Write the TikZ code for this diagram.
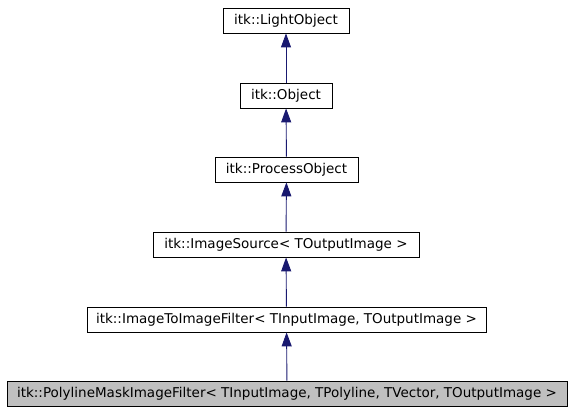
\documentclass[tikz,border=0pt]{standalone}
\usepackage{fontspec}
\setmainfont{DejaVu Sans}
\usetikzlibrary{arrows.meta}
\definecolor{edgeblue}{HTML}{191970}
\definecolor{boxgray}{HTML}{BFBFBF}
\begin{document}
\begin{tikzpicture}[x=1pt,y=-1pt,
    cls/.style={draw,black,line width=0.8pt,minimum height=25pt,inner sep=0pt,font=\fontsize{13.5}{16}\selectfont},
    inherit/.style={edgeblue,line width=0.9pt,-{Triangle[length=14pt,width=10pt]}}]
        \useasboundingbox (0,0) rectangle (571,411);
        %Classes
        \node[cls,minimum width=126pt] (light) at (286,20.5) {itk::LightObject};
        \node[cls,minimum width=92pt] (object) at (286,95.5) {itk::Object};
        \node[cls,minimum width=143pt] (process) at (286.5,169.5) {itk::ProcessObject};
        \node[cls,minimum width=266pt] (source) at (286,244.5) {itk::ImageSource< TOutputImage >};
        \node[cls,minimum width=399pt] (imgfilter) at (286.5,319.5) {itk::ImageToImageFilter< TInputImage, TOutputImage >};
        \node[cls,fill=boxgray,minimum width=560pt] (polyline) at (287,393.5) {itk::PolylineMaskImageFilter< TInputImage, TPolyline, TVector, TOutputImage >};
        %Inheritance
        \foreach \a/\b in {object/light,process/object,source/process,imgfilter/source,polyline/imgfilter}
          \draw[inherit] (\a) -- (\b);
\end{tikzpicture}
\end{document}
